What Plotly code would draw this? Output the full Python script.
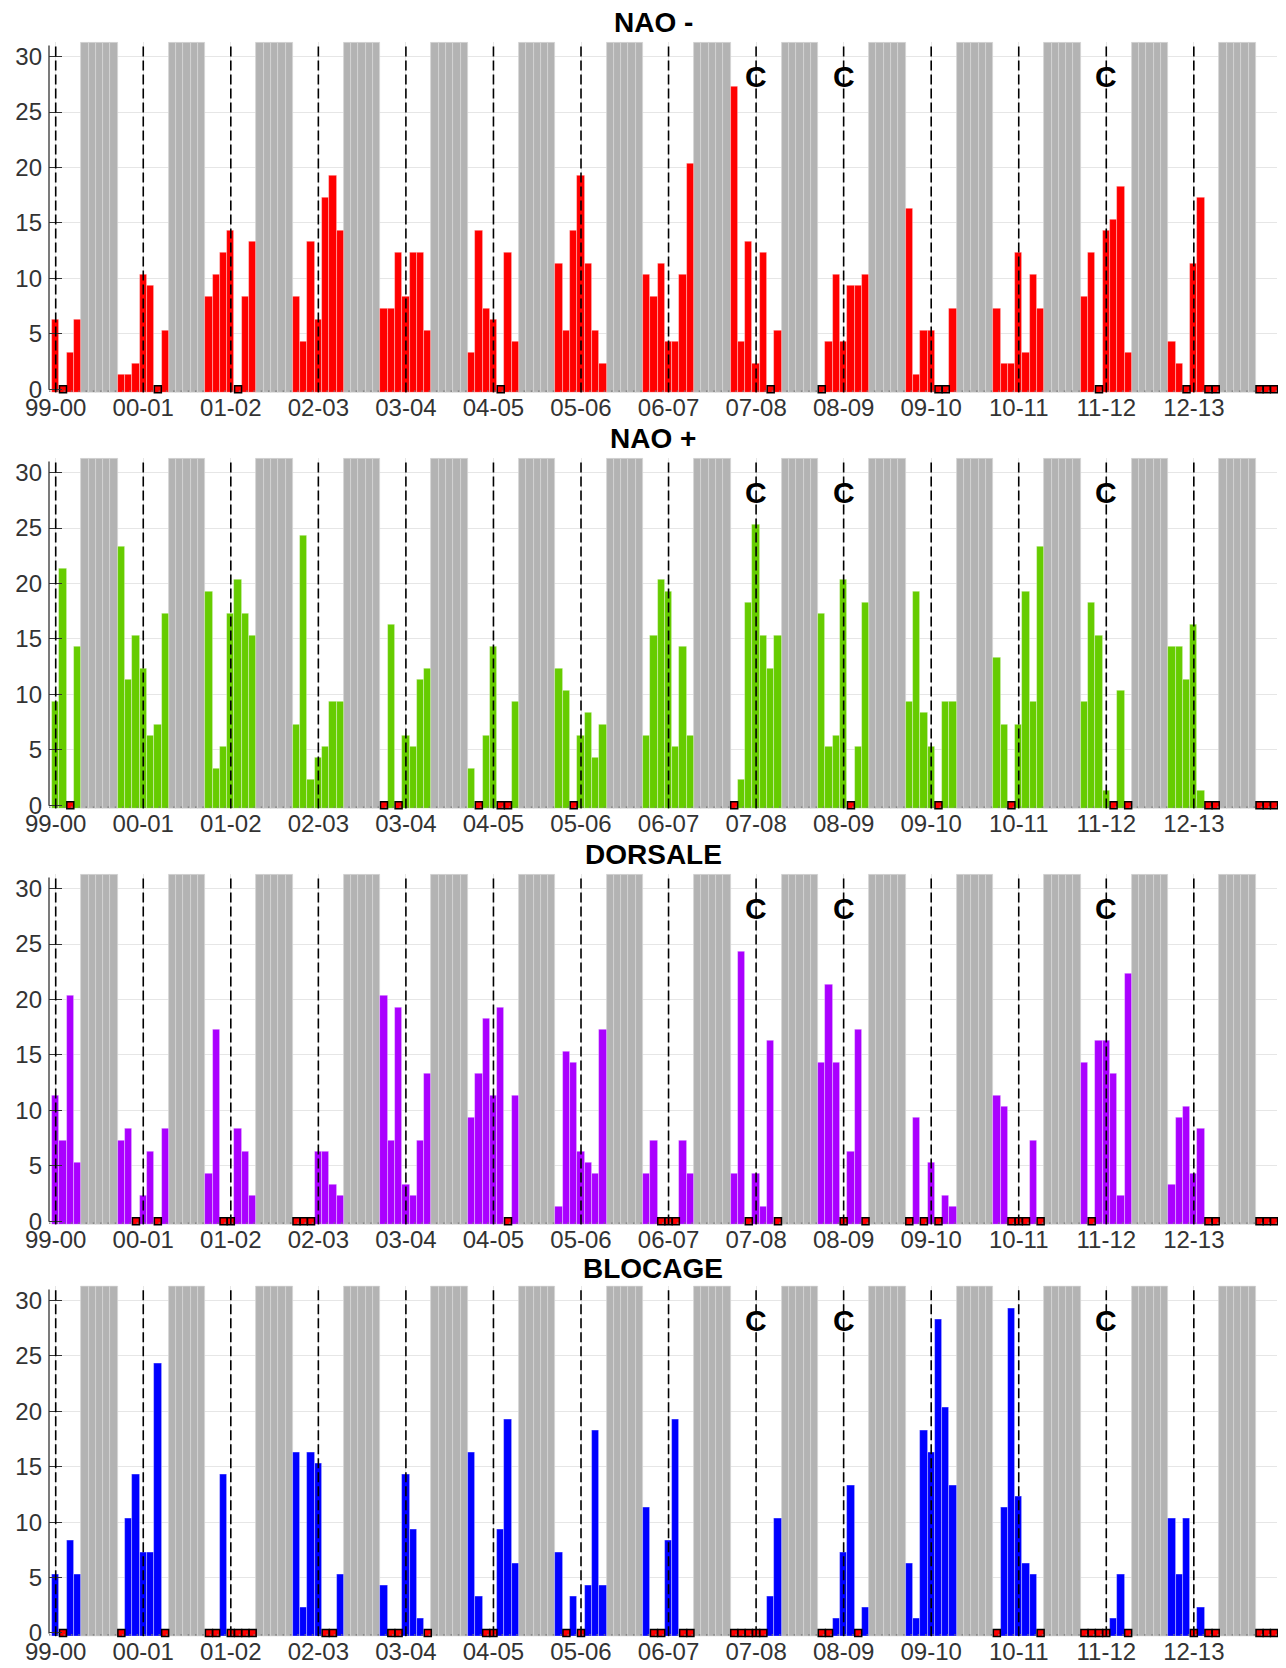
import plotly.graph_objects as go

# ---------------- data ----------------
WINTERS = ["99-00", "00-01", "01-02", "02-03", "03-04", "04-05", "05-06",
           "06-07", "07-08", "08-09", "09-10", "10-11", "11-12", "12-13"]
N_YEARS = 14                      # calendar years 2000 .. 2013
WINTER_MONTHS = [0, 1, 2, 3, 9, 10, 11]   # Jan-Apr and Oct-Dec of each year
SUMMER_MONTHS = [4, 5, 6, 7, 8]           # May-Sep (grey bands)
SUMMER_LEVEL = 31
C_WINTERS = ["07-08", "08-09", "11-12"]

# days per month, chronological: Jan-Apr 2000, then Oct-Apr for each winter, then Oct-Dec 2013
NAO_MINUS = [6, 0, 3, 6,
             1, 1, 2, 10, 9, 0, 5,
             8, 10, 12, 14, 0, 8, 13,
             8, 4, 13, 6, 17, 19, 14,
             7, 7, 12, 8, 12, 12, 5,
             3, 14, 7, 6, 0, 12, 4,
             11, 5, 14, 19, 11, 5, 2,
             10, 8, 11, 4, 4, 10, 20,
             27, 4, 13, 2, 12, 0, 5,
             0, 4, 10, 4, 9, 9, 10,
             16, 1, 5, 5, 0, 0, 7,
             7, 2, 2, 12, 3, 10, 7,
             8, 12, 0, 14, 15, 18, 3,
             4, 2, 0, 11, 17, 0, 0,
             0, 0, 0]

NAO_PLUS = [9, 21, 0, 14,
            23, 11, 15, 12, 6, 7, 17,
            19, 3, 5, 17, 20, 17, 15,
            7, 24, 2, 4, 5, 9, 9,
            0, 16, 0, 6, 5, 11, 12,
            3, 0, 6, 14, 0, 0, 9,
            12, 10, 0, 6, 8, 4, 7,
            6, 15, 20, 19, 5, 14, 6,
            0, 2, 18, 25, 15, 12, 15,
            17, 5, 6, 20, 0, 5, 18,
            9, 19, 8, 5, 0, 9, 9,
            13, 7, 0, 7, 19, 9, 23,
            9, 18, 15, 1, 0, 10, 0,
            14, 14, 11, 16, 1, 0, 0,
            0, 0, 0]

DORSALE = [11, 7, 20, 5,
           7, 8, 0, 2, 6, 0, 8,
           4, 17, 0, 0, 8, 6, 2,
           0, 0, 0, 6, 6, 3, 2,
           20, 7, 19, 3, 2, 7, 13,
           9, 13, 18, 11, 19, 0, 11,
           1, 15, 14, 6, 5, 4, 17,
           4, 7, 0, 0, 0, 7, 4,
           4, 24, 0, 4, 1, 16, 0,
           14, 21, 14, 0, 6, 17, 0,
           0, 9, 0, 5, 0, 2, 1,
           11, 10, 0, 0, 0, 7, 0,
           14, 0, 16, 16, 13, 2, 22,
           3, 9, 10, 4, 8, 0, 0,
           0, 0, 0]

BLOCAGE = [5, 0, 8, 5,
           0, 10, 14, 7, 7, 24, 0,
           0, 0, 14, 0, 0, 0, 0,
           16, 2, 16, 15, 0, 0, 5,
           4, 0, 0, 14, 9, 1, 0,
           16, 3, 0, 0, 9, 19, 6,
           7, 0, 3, 0, 4, 18, 4,
           11, 0, 0, 8, 19, 0, 0,
           0, 0, 0, 0, 0, 3, 10,
           0, 0, 1, 7, 13, 0, 2,
           6, 1, 18, 16, 28, 20, 13,
           0, 11, 29, 12, 6, 5, 0,
           0, 0, 0, 0, 1, 5, 0,
           10, 5, 10, 0, 2, 0, 0,
           0, 0, 0]

PANELS = [("NAO -", NAO_MINUS, "#ff0000"),
          ("NAO +", NAO_PLUS, "#66cc00"),
          ("DORSALE", DORSALE, "#aa00ff"),
          ("BLOCAGE", BLOCAGE, "#0000ff")]

# ---------------- geometry / style ----------------
OFF = 8                      # browser body margin
W, H = 1286 - 2 * OFF, 1668 - OFF
PX_LEFT, PX_RIGHT = 49, 1277
PANEL_TOPS = [41.7, 457.7, 873.7, 1285.5]
PANEL_HEIGHT = 351
TITLE_Y = [22.5, 438.5, 854.5, 1268.5]
PAD = 0.3
X_RANGE = [-0.92, 167.4]
Y_RANGE = [-0.32, 31.35]
FONT = "Liberation Sans, Arial, Helvetica, sans-serif"
GRID = "#e6e6e6"
GREY = "#b3b3b3"
TXT = "#333333"

winter_x = [y * 12 + m for y in range(N_YEARS) for m in WINTER_MONTHS]
summer_x = [y * 12 + m for y in range(N_YEARS) for m in SUMMER_MONTHS]
year_ticks = [12 * i for i in range(len(WINTERS))]


def fx(px):
    return (px - OFF) / W


def fy(py):
    return 1 - (py - OFF) / H


fig = go.Figure()
layout = dict(width=W, height=H, margin=dict(l=0, r=0, t=0, b=0, pad=0, autoexpand=False),
              paper_bgcolor="white", plot_bgcolor="white", showlegend=False,
              barmode="overlay", bargap=0, font=dict(family=FONT, color=TXT))
shapes, annotations = [], []

for k, (title, vals, color) in enumerate(PANELS):
    n = k + 1
    xa = "x" if n == 1 else f"x{n}"
    ya = "y" if n == 1 else f"y{n}"
    top = PANEL_TOPS[k]
    bot = top + PANEL_HEIGHT

    layout["xaxis" if n == 1 else f"xaxis{n}"] = dict(
        domain=[fx(PX_LEFT), fx(PX_RIGHT)], range=X_RANGE, anchor=ya, automargin=False,
        tickmode="array", tickvals=year_ticks, ticktext=WINTERS,
        showgrid=True, gridcolor=GRID, gridwidth=1, zeroline=False,
        showline=False, ticks="", tickfont=dict(size=24, color=TXT, family=FONT),
        ticklabelstandoff=-2, fixedrange=True)
    layout["yaxis" if n == 1 else f"yaxis{n}"] = dict(
        domain=[fy(bot), fy(top)], range=Y_RANGE, anchor=xa, automargin=False,
        tickmode="array", tickvals=[0, 5, 10, 15, 20, 25, 30],
        showgrid=True, gridcolor=GRID, gridwidth=1, zeroline=False,
        showline=False, ticks="inside", ticklen=13, tickwidth=1.3, tickcolor=TXT,
        tickfont=dict(size=24, color=TXT, family=FONT), ticklabelstandoff=6,
        fixedrange=True)

    # grey summer bands
    fig.add_trace(go.Bar(x=summer_x, y=[SUMMER_LEVEL + 2 * PAD] * len(summer_x), base=-PAD,
                         width=1, marker=dict(color=GREY, line=dict(color="#d4d4d4", width=0.8)),
                         xaxis=xa, yaxis=ya, hoverinfo="skip"))
    # regime bars
    fig.add_trace(go.Bar(x=winter_x, y=[v + 2 * PAD if v > 0 else None for v in vals], base=-PAD,
                         width=1, marker=dict(color=color, line=dict(color="rgba(255,255,255,0.45)", width=0.8)),
                         xaxis=xa, yaxis=ya))
    # zero markers
    zx = [x for x, v in zip(winter_x, vals) if v == 0]
    fig.add_trace(go.Scatter(x=zx, y=[0] * len(zx), mode="markers", cliponaxis=False,
                             marker=dict(symbol="square", size=7, color="#ff0000",
                                         line=dict(color="black", width=1.5)),
                             xaxis=xa, yaxis=ya))
    # dotted month ticks along the bottom
    shapes.append(dict(type="line", xref=xa, yref=ya, x0=X_RANGE[0], x1=X_RANGE[1], y0=-0.17, y1=-0.17,
                       line=dict(color="#7a7a7a", width=1.2, dash="1.5px,5.8px"), layer="above"))
    # dashed year lines
    for t in year_ticks:
        shapes.append(dict(type="line", xref=xa, yref=ya, x0=t, x1=t, y0=-PAD, y1=31.0,
                           line=dict(color="black", width=1.6, dash="10px,4px"), layer="above"))
    # left axis line
    shapes.append(dict(type="line", xref=f"{xa} domain", yref=ya, x0=0, x1=0, y0=-0.05, y1=31.0,
                       line=dict(color=TXT, width=1.3), layer="above"))
    # title
    annotations.append(dict(text=f"<b>{title}</b>", x=fx(653), y=fy(TITLE_Y[k]),
                            xref="paper", yref="paper", xanchor="center", yanchor="middle",
                            showarrow=False, font=dict(size=28, color="black", family=FONT)))
    # C marks
    for w in C_WINTERS:
        annotations.append(dict(text="<b>C</b>", x=12 * WINTERS.index(w), y=28.2, xref=xa, yref=ya,
                                xanchor="center", yanchor="middle", showarrow=False,
                                font=dict(size=30, color="black", family=FONT)))

layout["shapes"] = shapes
layout["annotations"] = annotations
fig.update_layout(**layout)
fig.write_html("out.html")
